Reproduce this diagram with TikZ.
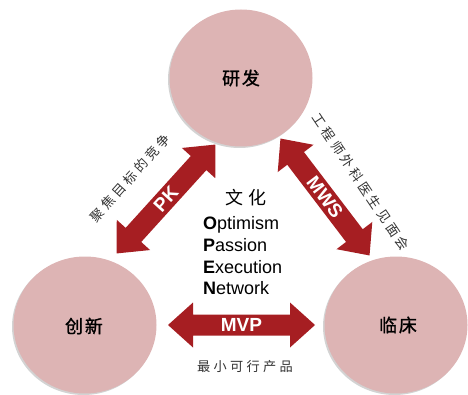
\documentclass[tikz,border=0pt]{standalone}
\usepackage{fontspec}
\setmainfont{Liberation Sans}
\newfontfamily\cjk{Noto Sans CJK SC}
\newfontfamily\cjksp[LetterSpace=25]{Noto Sans CJK SC}
\newfontfamily\cjkbig[LetterSpace=10,FakeBold=1.2]{Noto Sans CJK SC}
\usetikzlibrary{shadows}
\definecolor{circlepink}{RGB}{221,180,180}
\definecolor{arrowred}{RGB}{166,30,34}
\tikzset{
  bubble/.style={ellipse, minimum width=143pt, minimum height=137pt, fill=circlepink, inner sep=0pt,
    drop shadow={shadow xshift=-1.5pt, shadow yshift=-1.5pt, opacity=0.35}},
  bubbletext/.style={font=\cjkbig\fontsize{18}{20}\selectfont, text=black},
  arrowtext/.style={font=\bfseries\fontsize{19}{20}\selectfont, text=white, inner sep=0pt},
  sidetext/.style={font=\cjksp\fontsize{13.2}{14}\selectfont, text=black!80, inner sep=0pt},
  opentext/.style={font=\fontsize{18}{20}\selectfont, anchor=base west, inner sep=0pt}
}
\usetikzlibrary{shapes.geometric}
\newcommand{\mydblarrow}[4]{%
  \begin{scope}[shift={#1}, rotate=#2]
    \fill[arrowred] (-73.5,0) -- (-48.5,22.5) -- (-48.5,10.5) -- (48.5,10.5) -- (48.5,22.5) -- (73.5,0)
      -- (48.5,-22.5) -- (48.5,-10.5) -- (-48.5,-10.5) -- (-48.5,-22.5) -- cycle;
    \node[arrowtext, rotate=#2] (#3) at (0,0) {#4};
  \end{scope}}
\begin{document}
\begin{tikzpicture}[x=1pt, y=1pt]
\useasboundingbox (0,0) rectangle (468,394);
\node[bubble] (rd) at (241,316) {};
\node[bubble] (cx) at (85,69) {};
\node[bubble] (lc) at (396,69) {};
\node[bubbletext] (rdt) at (rd) {研发};
\node[bubbletext] (cxt) at (84,68) {创新};
\node[bubbletext] (lct) at (398,69) {临床};
\mydblarrow{(166,195)}{47.8}{pk}{PK}
\mydblarrow{(325,197)}{-52.7}{mws}{MWS}
\mydblarrow{(241.5,69)}{0}{mvp}{MVP}
\node[sidetext, rotate=48] (pkl) at (130,216) {聚焦目标的竞争};
\node[sidetext, rotate=-56] (mwsl) at (361,212) {工程师外科医生见面会};
\node[sidetext] (mvpl) at (245,27) {最小可行产品};
\node[font=\cjksp\fontsize{18}{20}\selectfont] (wh) at (246,196) {文化};
\node[opentext] (o1) at (203,165) {\textbf{O}ptimism};
\node[opentext] (o2) at (203,143) {\textbf{P}assion};
\node[opentext] (o3) at (203,121) {\textbf{E}xecution};
\node[opentext] (o4) at (203,100) {\textbf{N}etwork};
\end{tikzpicture}
\end{document}
